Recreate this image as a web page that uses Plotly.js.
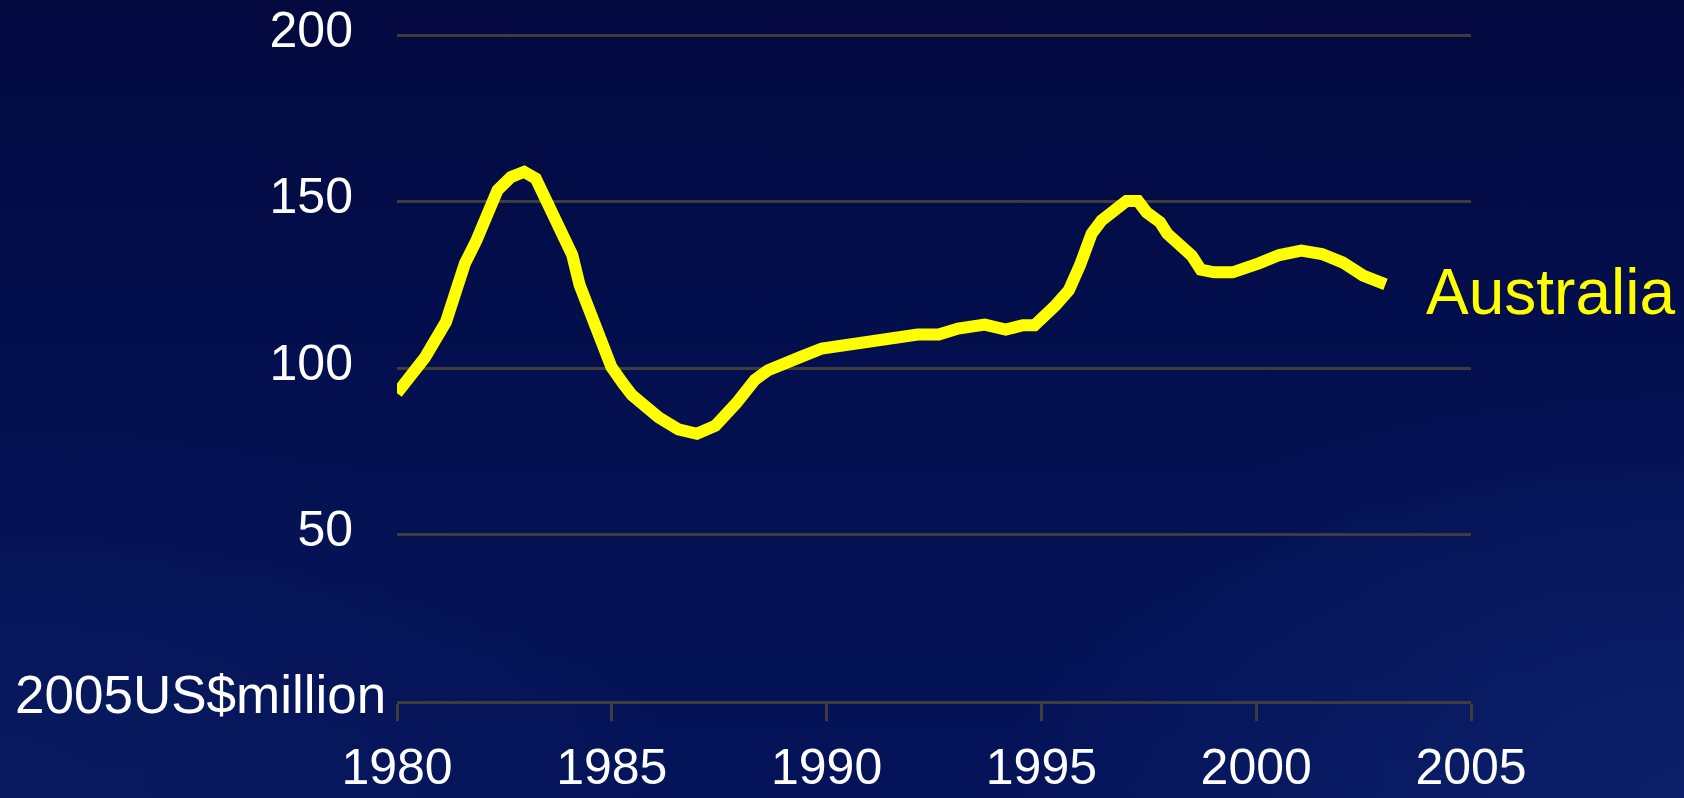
<!DOCTYPE html>
<html>
<head>
<meta charset="utf-8">
<script src="https://cdn.plot.ly/plotly-3.0.1.min.js"></script>
<style>
  html, body { margin: 0; padding: 0; width: 1684px; height: 798px; overflow: hidden; }
  body {
    background:
      radial-gradient(ellipse 40% 55% at 100% 100%, rgba(14,36,112,0.75) 0%, rgba(14,36,112,0) 100%),
      radial-gradient(ellipse 40% 50% at 0% 100%, rgba(12,30,100,0.6) 0%, rgba(12,30,100,0) 100%),
      linear-gradient(180deg, #03093f 0%, #030f4e 45%, #05145a 100%);
  }
  #chart { width: 1684px; height: 798px; }
</style>
</head>
<body>
<div id="chart"></div>
<script>
// Australia, 2005US$million
const years = [
  1980.0, 1980.38, 1980.65, 1981.14, 1981.32, 1981.58, 1981.85, 1982.07, 1982.34, 1982.65,
  1982.96, 1983.23, 1983.5, 1983.86, 1984.08, 1984.25, 1984.54, 1984.77, 1984.99, 1985.26,
  1985.47, 1986.09, 1986.55, 1986.98, 1987.41, 1987.9, 1988.33, 1988.64, 1989.05, 1989.4,
  1989.89, 1991.0, 1992.12, 1992.61, 1993.06, 1993.68, 1994.17, 1994.57, 1994.84, 1995.33,
  1995.64, 1995.9, 1996.17, 1996.4, 1996.71, 1996.98, 1997.25, 1997.45, 1997.76, 1997.93,
  1998.5, 1998.71, 1999.02, 1999.45, 2000.06, 2000.54, 2001.05, 2001.53, 2002.01, 2002.49,
  2003.01
];
const australia = [
  92.5, 99.4, 103.2, 113.9, 122.4, 131.4, 138.4, 145.0, 153.5, 157.4,
  159.0, 157.0, 149.0, 139.0, 134.0, 125.0, 115.0, 106.0, 100.4, 95.4,
  91.9, 85.2, 81.6, 80.3, 82.7, 89.5, 96.5, 99.4, 101.9, 103.4,
  105.9, 108.0, 110.1, 110.1, 111.9, 113.1, 111.6, 112.9, 112.9, 118.9,
  123.4, 131.0, 140.4, 144.4, 147.9, 150.2, 150.2, 146.8, 143.9, 140.4,
  133.8, 129.6, 128.8, 128.8, 131.5, 134.0, 135.3, 134.3, 131.8, 127.8,
  125.2
];
const xTicks = [1980, 1985, 1990, 1995, 2000, 2005];
const yTicks = [50, 100, 150, 200];
const seriesName = "Australia";
const unitLabel = "2005US$million";

const FONT = '"Liberation Sans", Arial, sans-serif';
const GRID = '#3d3d3d';

const trace = {
  x: years,
  y: australia,
  type: 'scatter',
  mode: 'lines',
  name: seriesName,
  line: { color: '#ffff00', width: 12, shape: 'linear' },
  hoverinfo: 'x+y'
};

const layout = {
  width: 1684,
  height: 798,
  margin: { l: 397, r: 213, t: 32, b: 97, pad: 0 },
  paper_bgcolor: 'rgba(0,0,0,0)',
  plot_bgcolor: 'rgba(0,0,0,0)',
  showlegend: false,
  font: { family: FONT, color: '#ffffff' },
  xaxis: {
    range: [1980, 2005],
    tickvals: xTicks,
    ticktext: xTicks.map(String),
    showgrid: false,
    zeroline: false,
    showline: true,
    linecolor: GRID,
    linewidth: 3,
    ticks: 'outside',
    ticklen: 17,
    tickwidth: 3,
    tickcolor: GRID,
    ticklabelstandoff: 3,
    tickfont: { family: FONT, size: 50, color: '#ffffff' }
  },
  yaxis: {
    range: [0, 201],
    tickvals: yTicks,
    ticktext: yTicks.map(String),
    showgrid: true,
    gridcolor: GRID,
    gridwidth: 3,
    zeroline: false,
    showline: false,
    ticks: '',
    ticklabelstandoff: 43,
    ticklabelshift: -6,
    tickfont: { family: FONT, size: 50, color: '#ffffff' }
  },
  annotations: [
    {
      text: unitLabel,
      xref: 'paper', yref: 'y',
      x: -0.008, y: 2,
      xanchor: 'right', yanchor: 'middle',
      showarrow: false,
      font: { family: FONT, size: 53, color: '#ffffff' }
    },
    {
      text: seriesName,
      xref: 'x', yref: 'y',
      x: 2003.9, y: 123,
      xanchor: 'left', yanchor: 'middle',
      showarrow: false,
      font: { family: FONT, size: 64, color: '#ffff00' }
    }
  ]
};

Plotly.newPlot('chart', [trace], layout, { displayModeBar: false, staticPlot: true });
</script>
</body>
</html>
